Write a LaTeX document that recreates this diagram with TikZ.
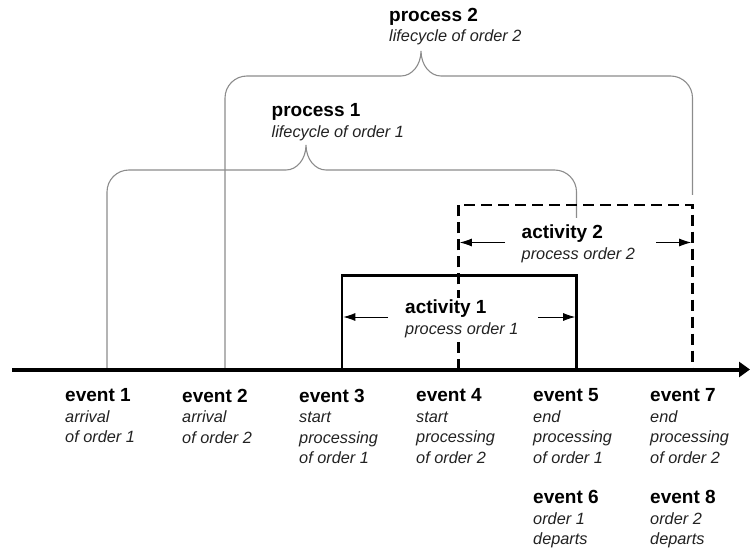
\documentclass[tikz,border=0pt]{standalone}
\usepackage{fontspec}
\setmainfont{Liberation Sans}
\usetikzlibrary{arrows.meta}
\definecolor{bracegray}{HTML}{8C8C8C}
\definecolor{subtext}{HTML}{222222}
% bold heading line of a label block
\newcommand{\hd}[1]{{\fontsize{19bp}{20.5bp}\selectfont\bfseries\upshape\color{black}#1}}
\begin{document}
\begin{tikzpicture}[x=1bp,y=-1bp,
  brace/.style={draw=bracegray, line width=1.1bp},
  solidbox/.style={line width=2.6bp},
  dashbox/.style={line width=2.6bp, dash pattern=on 11bp off 6bp},
  span/.style={line width=0.9bp, -{Latex[length=12bp,width=8bp]}},
  axis/.style={line width=4bp, -{Triangle[length=11bp,width=15bp]}},
  lbl/.style={anchor=north west, inner sep=2bp, align=left, text=subtext, fill=white,
    font=\fontsize{16.3bp}{20.5bp}\selectfont\itshape},
]
\useasboundingbox (0,0) rectangle (750,549);

% points on the time axis
\coordinate (t0) at (12,369.5);
\coordinate (t1) at (750,369.5);
\coordinate (p1s) at (107,369.5);
\coordinate (p2s) at (225,369.5);
\coordinate (p1e) at (576.5,218);
\coordinate (p2e) at (692.5,195);

% process 1 brace
\draw[brace] (p1s) -- (107,192) .. controls (107,179.8) and (116.8,170) .. (129,170)
  -- (286,170) .. controls (297,170) and (306,159) .. (306,145)
  .. controls (306,159) and (315,170) .. (326,170)
  -- (554.5,170) .. controls (566.7,170) and (576.5,179.8) .. (576.5,192) -- (p1e);

% process 2 brace
\draw[brace] (p2s) -- (225,98) .. controls (225,85.8) and (234.8,76) .. (247,76)
  -- (401,76) .. controls (412,76) and (421,65) .. (421,51)
  .. controls (421,65) and (430,76) .. (441,76)
  -- (670.5,76) .. controls (682.7,76) and (692.5,85.8) .. (692.5,98) -- (p2e);

% activity 1: solid box
\coordinate (a1l) at (342,369.5);
\coordinate (a1r) at (576.5,369.5);
\draw[solidbox] (a1l) -- (342,275.5) -- (576.5,275.5) -- (a1r);

% activity 2: dashed box
\coordinate (a2l) at (458.5,369.5);
\coordinate (a2r) at (692.5,369.5);
\draw[dashbox] (a2l) -- (458.5,205) -- (692.5,205) -- (a2r);

% duration arrows
\coordinate (s1a) at (388,317);   \coordinate (s1b) at (343.3,317);
\coordinate (s1c) at (538,317);   \coordinate (s1d) at (575.2,317);
\coordinate (s2a) at (505,242.5); \coordinate (s2b) at (459.8,242.5);
\coordinate (s2c) at (656,242.5); \coordinate (s2d) at (691.2,242.5);
\draw[span] (s1a) -- (s1b);
\draw[span] (s1c) -- (s1d);
\draw[span] (s2a) -- (s2b);
\draw[span] (s2c) -- (s2d);

% time axis
\draw[axis] (t0) -- (t1);

% labels of processes and activities
\node[lbl] (proc2) at (387,5.6) {\hd{process 2}\\lifecycle of order 2};
\node[lbl] (proc1) at (269.5,101.6) {\hd{process 1}\\lifecycle of order 1};
\node[lbl] (act2) at (519.5,222.6) {\hd{activity 2}\\process order 2};
\node[lbl] (act1) at (403,298) {\hd{activity 1}\\process order 1};

% event labels
\node[lbl] (ev1) at (63,386.6)  {\hd{event 1}\\arrival\\of order 1};
\node[lbl] (ev2) at (180,386.6) {\hd{event 2}\\arrival\\of order 2};
\node[lbl] (ev3) at (297,386.6) {\hd{event 3}\\start\\processing\\of order 1};
\node[lbl] (ev4) at (414,386.6) {\hd{event 4}\\start\\processing\\of order 2};
\node[lbl] (ev5) at (531,386.6) {\hd{event 5}\\end\\processing\\of order 1};
\node[lbl] (ev7) at (648,386.6) {\hd{event 7}\\end\\processing\\of order 2};
\node[lbl] (ev6) at (531,488.4) {\hd{event 6}\\order 1\\departs};
\node[lbl] (ev8) at (648,488.4) {\hd{event 8}\\order 2\\departs};
\end{tikzpicture}
\end{document}
